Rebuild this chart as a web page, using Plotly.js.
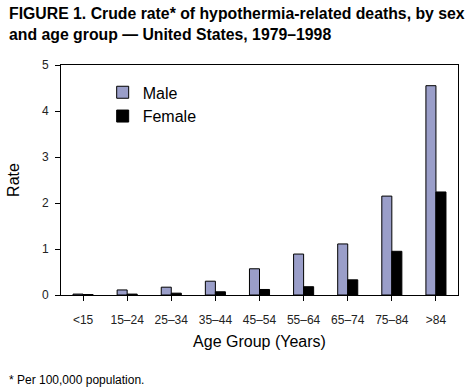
<!DOCTYPE html>
<html><head><meta charset="utf-8">
<script src="https://cdn.plot.ly/plotly-3.0.1.min.js"></script>
<style>body{margin:0;padding:0;background:#fff}#chart{width:466px;height:389px}</style>
</head><body><div id="chart"></div>
<script>
const categories = ['<15','15–24','25–34','35–44','45–54','55–64','65–74','75–84','>84'];
const maleRates = [0.02,0.11,0.17,0.30,0.57,0.89,1.11,2.15,4.55];
const femaleRates = [0.01,0.02,0.04,0.07,0.12,0.18,0.33,0.95,2.24];
const yTicks = [0,1,2,3,4,5];

const font = 'Helvetica, Arial, "Liberation Sans", sans-serif';
const data = [
  {type:'bar', name:'Male', x:categories, y:maleRates,
   marker:{color:'#9a9ec9', line:{color:'#000', width:1}}},
  {type:'bar', name:'Female', x:categories, y:femaleRates,
   marker:{color:'#000', line:{color:'#000', width:1}}}
];
const layout = {
  width:466, height:389,
  margin:{l:61, r:8, t:65, b:94},
  paper_bgcolor:'#fff', plot_bgcolor:'#fff',
  font:{family:font, color:'#000'},
  barmode:'group', bargap:0.545, bargroupgap:0,
  showlegend:true,
  legend:{x:0.105, y:0.955, xanchor:'left', yanchor:'top', bgcolor:'rgba(0,0,0,0)',
    font:{size:16, family:font}, itemwidth:30, tracegroupgap:6},
  xaxis:{type:'category', showline:true, linecolor:'#000', linewidth:1, mirror:true,
    ticks:'outside', ticklen:5, tickcolor:'#000', showgrid:false, zeroline:false,
    tickfont:{size:12, color:'#222'}, ticklabelstandoff:9,
    title:{text:'Age Group (Years)', font:{size:16}, standoff:9}},
  yaxis:{range:[0,5], tickvals:yTicks, showline:true, linecolor:'#000', linewidth:1, mirror:true,
    ticks:'outside', ticklen:5, tickcolor:'#000', showgrid:false, zeroline:false,
    tickfont:{size:12, color:'#222'}, ticklabelstandoff:4,
    title:{text:'Rate', font:{size:16}, standoff:18}},
  annotations:[
    {text:'<b>FIGURE 1. Crude rate* of hypothermia-related deaths, by sex<br>and age group — United States, 1979–1998</b>',
     xref:'paper', yref:'paper', x:-0.135, y:1.27, xanchor:'left', yanchor:'top', align:'left',
     showarrow:false, font:{size:15.8, family:font}},
    {text:'* Per 100,000 population.', xref:'paper', yref:'paper',
    x:-0.135, y:-0.37, xanchor:'left', yanchor:'middle', showarrow:false,
    font:{size:12, family:font}}]
};
Plotly.newPlot('chart', data, layout, {displayModeBar:false, staticPlot:true});
</script></body></html>
